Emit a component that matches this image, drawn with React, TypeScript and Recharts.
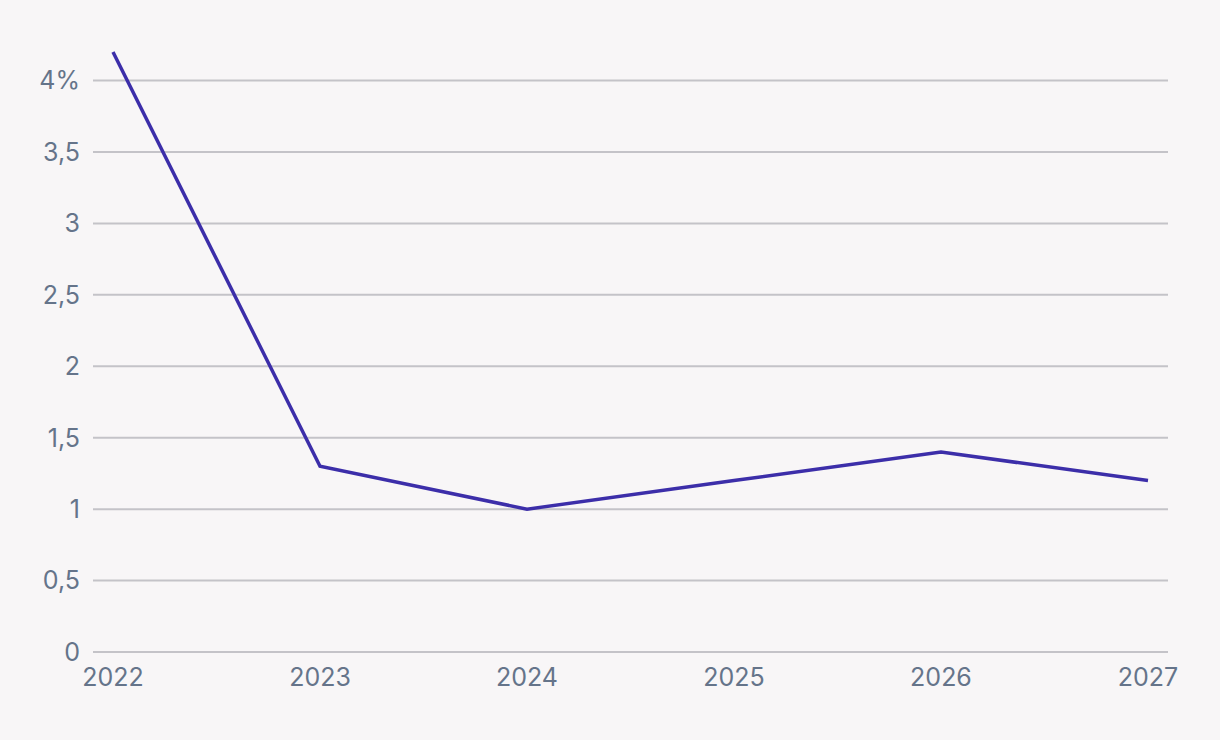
import React from 'react';
import { LineChart, Line, XAxis, YAxis, ReferenceLine } from 'recharts';

const years = ['2022', '2023', '2024', '2025', '2026', '2027'];
const rates = [4.2, 1.3, 1.0, 1.2, 1.4, 1.2];
const yTicks = [0, 0.5, 1, 1.5, 2, 2.5, 3, 3.5, 4];

const data = years.map((year, i) => ({ year, rate: rates[i] }));

const textColor = '#65748a';
const font = 'Inter, "Noto Sans", sans-serif';

// Comma decimals, percent sign only on the top tick
const formatY = (v: number) => (v === 4 ? '4%' : String(v).replace('.', ','));

export default function App() {
  return (
    <div
      style={{
        position: 'fixed',
        left: 0,
        top: 0,
        width: 1220,
        height: 740,
        background: '#f8f6f7',
        fontFamily: font,
      }}
    >
      <LineChart
        width={1220}
        height={740}
        data={data}
        margin={{ top: 52, right: 52, left: 0, bottom: 48 }}
      >
        {/* grid lines only at the ticks (the plot top sits above 4%) */}
        {yTicks.map(t => (
          <ReferenceLine key={t} y={t} stroke="#c4c3c8" strokeWidth={2} />
        ))}
        <XAxis
          dataKey="year"
          axisLine={false}
          tickLine={false}
          tickSize={0}
          tickMargin={16}
          height={40}
          padding={{ left: 20, right: 20 }}
          interval={0}
          tick={{ fill: textColor, fontSize: 25, fontFamily: font }}
        />
        <YAxis
          domain={[0, 4.2]}
          ticks={yTicks}
          interval={0}
          axisLine={false}
          tickLine={false}
          tickSize={0}
          tickMargin={13}
          width={93}
          tickFormatter={formatY}
          tick={{ fill: textColor, fontSize: 25, fontFamily: font }}
        />
        <Line
          type="linear"
          dataKey="rate"
          stroke="#3c2ea9"
          strokeWidth={3.5}
          dot={false}
          activeDot={false}
          isAnimationActive={false}
        />
      </LineChart>
    </div>
  );
}
